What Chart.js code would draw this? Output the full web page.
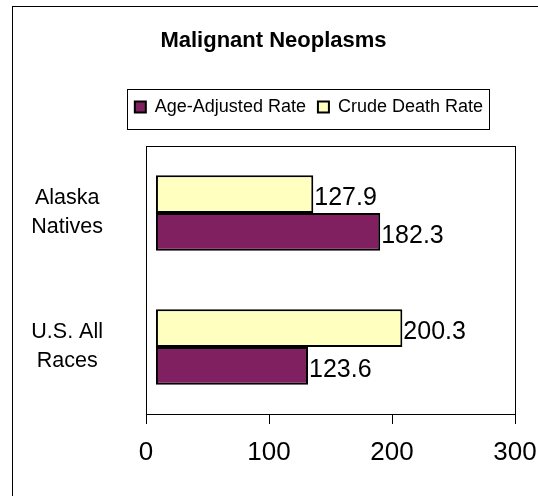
<!DOCTYPE html>
<html>
<head>
<meta charset="utf-8">
<title>Malignant Neoplasms</title>
<script src="https://cdn.jsdelivr.net/npm/chart.js@4"></script>
<style>
  html, body { margin: 0; padding: 0; background: #fff; }
  #wrap { width: 538px; height: 496px; }
</style>
</head>
<body>
<div id="wrap"><canvas id="chart" width="538" height="496"></canvas></div>
<script>
const categories = [['Alaska', 'Natives'], ['U.S. All', 'Races']];
const seriesNames = ['Age-Adjusted Rate', 'Crude Death Rate'];
const ageAdjusted = [182.3, 123.6];
const crudeDeath = [127.9, 200.3];
const xTicks = [0, 100, 200, 300];

// the original starts its bars a little right of the zero line
const barStart = 8.1;

const purple = '#802060';
const cream = '#FFFFC0';
const fontFamily = 'Arial, "Liberation Sans", sans-serif';
const legendRight = 495;

Chart.defaults.font.family = fontFamily;
Chart.defaults.color = '#000';

const floating = values => values.map(v => [barStart, barStart + v]);

// push the plot down from the legend, and slide the legend left a bit
const legendPlace = {
    id: 'legendPlace',
    beforeInit(chart) {
        const fit = chart.legend.fit;
        chart.legend.fit = function () {
            fit.call(this);
            this.height += 20;
        };
    },
    afterLayout(chart) {
        const lg = chart.legend;
        const dx = legendRight - lg.right;
        lg.left += dx;
        lg.right += dx;
    }
};

// value printed at the end of each bar
const valueLabels = {
    id: 'valueLabels',
    afterDatasetsDraw(chart) {
        const ctx = chart.ctx;
        ctx.save();
        ctx.font = '25px ' + fontFamily;
        ctx.fillStyle = '#000';
        ctx.textAlign = 'left';
        ctx.textBaseline = 'middle';
        chart.data.datasets.forEach((ds, i) => {
            chart.getDatasetMeta(i).data.forEach((bar, j) => {
                ctx.fillText(ds.values[j].toFixed(1), bar.x + 1, bar.y + 4);
            });
        });
        ctx.restore();
    }
};

// outer frame, plot box and legend box
const frames = {
    id: 'frames',
    afterDraw(chart) {
        const { ctx, chartArea: a, legend } = chart;
        ctx.save();
        ctx.strokeStyle = '#000';
        ctx.lineWidth = 1;
        ctx.strokeRect(12.5, 6.5, 700, 700);
        ctx.strokeRect(Math.round(a.left) + 0.5, Math.round(a.top) + 0.5,
            Math.round(a.right - a.left), Math.round(a.bottom - a.top));

        // legend is aligned to the end, so its items run up to right - padding
        const pad = legend.options.labels.padding;
        const lw = legend.lineWidths[0];
        const x0 = legend.right - lw;
        const x1 = x0 + lw - pad;
        const cy = legend.top + pad + 9;
        ctx.strokeRect(Math.round(x0 - 8) + 0.5, Math.round(cy - 18) + 0.5,
            Math.round(x1 - x0 + 14), 40);
        ctx.restore();
    }
};

new Chart(document.getElementById('chart'), {
    type: 'bar',
    data: {
        labels: categories,
        datasets: [{
            label: seriesNames[1],
            data: floating(crudeDeath),
            values: crudeDeath,
            backgroundColor: cream,
            borderColor: '#000',
            borderWidth: 2,
            borderSkipped: false
        }, {
            label: seriesNames[0],
            data: floating(ageAdjusted),
            values: ageAdjusted,
            backgroundColor: purple,
            borderColor: '#000',
            borderWidth: 2,
            borderSkipped: false
        }]
    },
    options: {
        indexAxis: 'y',
        responsive: false,
        animation: false,
        events: [],
        barPercentage: 1,
        categoryPercentage: 0.565,
        layout: {
            padding: { top: 6, left: 32, right: 23, bottom: 16 }
        },
        plugins: {
            title: {
                display: true,
                text: 'Malignant Neoplasms',
                color: '#000',
                font: { size: 22, weight: 'bold' },
                padding: { top: 22, bottom: 31.6 }
            },
            legend: {
                position: 'top',
                align: 'end',
                reverse: true,
                labels: {
                    font: { size: 18 },
                    boxWidth: 11,
                    boxHeight: 11,
                    padding: 12,
                    color: '#000'
                }
            },
            tooltip: { enabled: false }
        },
        scales: {
            x: {
                min: xTicks[0],
                max: xTicks[xTicks.length - 1],
                afterBuildTicks: s => { s.ticks = xTicks.map(v => ({ value: v })); },
                afterFit: s => { s.height = 66; s.paddingLeft = 0; s.paddingRight = 0; },
                ticks: { font: { size: 26 }, padding: 13, color: '#000' },
                grid: { drawOnChartArea: false, drawTicks: true, tickLength: 10, color: '#000' },
                border: { display: true, color: '#000' }
            },
            y: {
                afterFit: s => { s.width = 114; },
                grid: { display: false, drawTicks: false },
                border: { display: true, color: '#000' },
                ticks: {
                    font: { size: 21.5, lineHeight: 1.35 },
                    padding: 43,
                    crossAlign: 'center',
                    color: '#000'
                }
            }
        }
    },
    plugins: [legendPlace, valueLabels, frames]
});
</script>
</body>
</html>
